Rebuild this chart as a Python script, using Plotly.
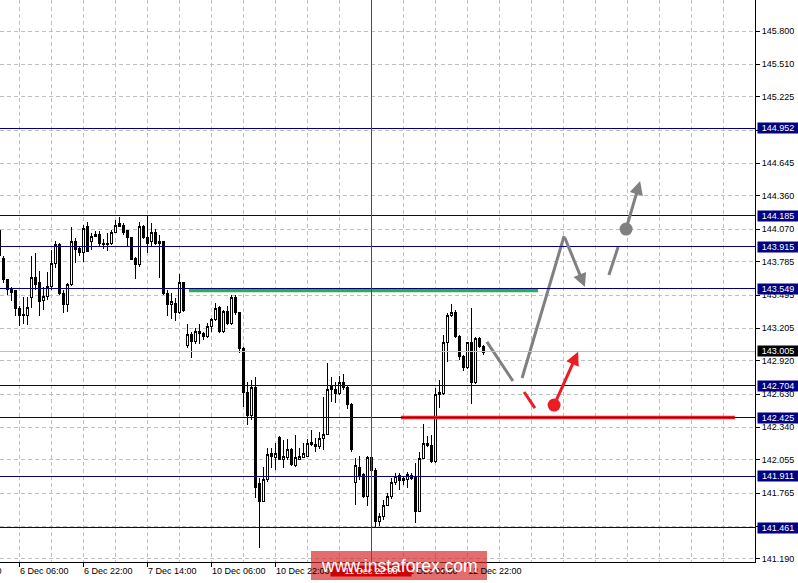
import plotly.graph_objects as go

# ---------------- data ----------------
bar_index = list(range(-1, 122))

open_prices = [
    144.054, 143.818, 143.626, 143.547, 143.530, 143.381, 143.329, 143.312, 143.469, 143.652,
    143.600, 143.443, 143.486, 143.573, 143.774, 143.940, 143.512, 143.416, 143.591, 143.958,
    143.897, 143.862, 144.089, 143.966, 144.019, 144.019, 143.949, 143.932, 143.949, 144.045,
    144.115, 144.106, 144.054, 143.993, 143.818, 143.757, 144.089, 144.001, 143.958, 144.045,
    143.949, 143.958, 143.512, 143.408, 143.425, 143.346, 143.600, 143.050, 143.146, 143.085,
    143.172, 143.155, 143.129, 143.216, 143.285, 143.390, 143.172, 143.355, 143.242, 143.469,
    143.338, 143.032, 142.648, 142.439, 142.683, 141.845, 141.696, 141.880, 142.107, 142.080,
    142.255, 142.063, 142.080, 142.142, 142.002, 142.063, 142.080, 142.089, 142.211, 142.194,
    142.168, 142.246, 142.281, 142.700, 142.674, 142.631, 142.735, 142.683, 142.543, 141.854,
    141.993, 141.932, 141.740, 142.080, 141.967, 141.513, 141.557, 141.661, 141.740, 141.854,
    141.915, 141.897, 141.880, 141.923, 141.906, 141.609, 142.071, 142.202, 142.185, 142.037,
    142.622, 142.631, 143.076, 143.312, 143.338, 143.137, 142.962, 142.858, 143.076, 142.727,
    143.111, 143.041, 142.998,
]
high_prices = [
    144.080, 143.836, 143.635, 143.565, 143.539, 143.399, 143.478, 143.478, 143.836, 143.862,
    143.705, 143.565, 143.696, 143.888, 143.966, 143.949, 143.539, 143.600, 144.089, 143.993,
    143.914, 144.106, 144.132, 144.036, 144.054, 144.054, 143.984, 144.036, 144.062, 144.150,
    144.176, 144.124, 144.062, 144.001, 143.827, 144.132, 144.106, 144.193, 144.124, 144.071,
    144.019, 143.966, 143.539, 143.512, 143.469, 143.678, 143.609, 143.242, 143.172, 143.207,
    143.242, 143.172, 143.251, 143.294, 143.425, 143.399, 143.364, 143.399, 143.495, 143.495,
    143.338, 143.041, 142.735, 142.753, 142.779, 141.897, 141.993, 142.159, 142.159, 142.202,
    142.264, 142.229, 142.238, 142.159, 142.273, 142.159, 142.202, 142.238, 142.316, 142.246,
    142.299, 142.604, 142.901, 142.779, 142.735, 142.788, 142.805, 142.700, 142.552, 142.071,
    142.089, 141.941, 142.089, 142.089, 141.985, 141.591, 141.705, 141.766, 141.897, 141.941,
    141.941, 141.915, 141.950, 141.941, 142.028, 142.124, 142.369, 142.264, 142.273, 142.683,
    142.753, 143.146, 143.338, 143.416, 143.364, 143.146, 142.971, 143.085, 143.381, 143.129,
    143.129, 143.059, 143.010,
]
low_prices = [
    143.818, 143.600, 143.495, 143.443, 143.312, 143.224, 143.242, 143.233, 143.381, 143.539,
    143.312, 143.364, 143.451, 143.539, 143.731, 143.495, 143.338, 143.346, 143.573, 143.774,
    143.836, 143.783, 143.871, 143.888, 144.001, 143.914, 143.897, 143.879, 143.932, 144.036,
    144.089, 144.019, 143.923, 143.801, 143.635, 143.740, 143.984, 143.862, 143.914, 143.932,
    143.643, 143.495, 143.312, 143.285, 143.268, 143.329, 143.346, 143.032, 142.945, 143.067,
    143.067, 143.102, 143.120, 143.172, 143.268, 143.164, 143.164, 143.233, 143.233, 143.320,
    142.989, 142.517, 142.360, 142.404, 141.723, 141.286, 141.688, 141.862, 141.985, 141.967,
    142.054, 141.985, 142.054, 142.002, 141.993, 142.054, 142.071, 142.080, 142.176, 142.124,
    142.150, 142.142, 142.273, 142.561, 142.552, 142.622, 142.666, 142.500, 142.124, 141.661,
    141.880, 141.723, 141.653, 141.950, 141.469, 141.478, 141.531, 141.653, 141.714, 141.836,
    141.792, 141.836, 141.810, 141.880, 141.504, 141.600, 142.063, 142.168, 142.028, 142.028,
    142.508, 142.622, 142.910, 143.303, 143.120, 142.927, 142.831, 142.849, 142.543, 142.718,
    143.032, 142.971, 142.995,
]
close_prices = [
    143.836, 143.626, 143.539, 143.521, 143.381, 143.320, 143.312, 143.390, 143.652, 143.591,
    143.434, 143.486, 143.573, 143.774, 143.940, 143.512, 143.416, 143.591, 143.958, 143.888,
    143.862, 144.080, 143.879, 144.010, 144.010, 143.949, 143.932, 143.949, 144.045, 144.106,
    144.097, 144.045, 143.993, 143.809, 143.757, 144.089, 143.993, 143.949, 144.045, 143.949,
    143.966, 143.504, 143.408, 143.434, 143.346, 143.600, 143.364, 143.146, 143.085, 143.172,
    143.155, 143.129, 143.216, 143.285, 143.381, 143.172, 143.355, 143.242, 143.469, 143.338,
    143.032, 142.648, 142.439, 142.683, 141.810, 141.696, 141.888, 142.098, 142.089, 142.115,
    142.063, 142.089, 142.142, 142.011, 142.080, 142.089, 142.107, 142.202, 142.194, 142.168,
    142.246, 142.281, 142.674, 142.674, 142.631, 142.735, 142.683, 142.543, 142.150, 142.002,
    141.923, 141.740, 142.080, 141.967, 141.513, 141.557, 141.661, 141.740, 141.862, 141.906,
    141.871, 141.871, 141.932, 141.897, 141.609, 142.071, 142.202, 142.185, 142.037, 142.622,
    142.640, 143.076, 143.312, 143.338, 143.129, 142.954, 142.858, 143.076, 142.727, 143.111,
    143.041, 142.989, 143.005,
]

level_prices = [144.952, 144.185, 143.915, 143.549, 142.704, 142.425, 141.911, 141.461]
last_price = 143.005

price_ticks = [145.800, 145.510, 145.225, 144.935, 144.645, 144.360, 144.070, 143.785,
               143.495, 143.205, 142.920, 142.630, 142.340, 142.055, 141.765, 141.475, 141.190]

time_tick_index = [-12, 4, 20, 36, 52, 68, 84, 100, 116]
time_tick_labels = ["5 Dec 14:00", "6 Dec 06:00", "6 Dec 22:00", "7 Dec 14:00",
                    "10 Dec 06:00", "10 Dec 22:00", "11 Dec 14:00", "12 Dec 06:00", "12 Dec 22:00"]
grid_index = list(range(-12, 196, 8))

cursor_index = 92
cursor_label = "11 Dec 22:00"

# drawn objects
green_x = [46.4, 133.7]
green_y = [143.535, 143.535]
red_x = [99.4, 182.9]
red_y = [142.425, 142.425]

gray_seg1_x = [120.9, 127.4]
gray_seg1_y = [143.085, 142.744]
gray_seg2_x = [129.7, 140.2]
gray_seg2_y = [142.770, 144.010]
gray_arrow1 = (140.2, 144.010, 145.4, 143.565)
gray_seg3_x = [151.4, 153.7]
gray_seg3_y = [143.670, 143.914]
gray_dot = (155.7, 144.071)
gray_arrow2 = (155.7, 144.071, 159.2, 144.490)

red_seg_x = [130.2, 132.9]
red_seg_y = [142.648, 142.508]
red_dot = (137.7, 142.534)
red_arrow = (137.7, 142.534, 143.7, 143.000)

x_range = [-0.825, 187.925]
y_range = [141.1637, 146.0707]

NAVY = "#000080"
GRID = "#c0c0c0"
GRAY = "#808080"
RED = "#ec1c24"
GREEN = "#27b04b"
FONT = "Liberation Sans, Arial, sans-serif"

fig = go.Figure()

fig.add_trace(go.Candlestick(
    x=bar_index, open=open_prices, high=high_prices, low=low_prices, close=close_prices,
    increasing=dict(line=dict(color="black", width=1), fillcolor="white"),
    decreasing=dict(line=dict(color="black", width=1), fillcolor="black"),
    whiskerwidth=0, showlegend=False, hoverinfo="skip",
))

shapes = []
for lv in level_prices:
    shapes.append(dict(type="line", xref="paper", x0=0, x1=1, yref="y", y0=lv, y1=lv,
                       line=dict(color=NAVY, width=1), layer="above"))
shapes.append(dict(type="line", xref="paper", x0=0, x1=1, yref="y", y0=last_price, y1=last_price,
                   line=dict(color=GRID, width=1), layer="above"))
shapes.append(dict(type="line", xref="x", x0=cursor_index, x1=cursor_index, yref="paper", y0=0, y1=1,
                   line=dict(color="#ff0000", width=1), layer="above"))
fig.update_layout(shapes=shapes)

def seg(x, y, color, width):
    fig.add_trace(go.Scatter(x=x, y=y, mode="lines", line=dict(color=color, width=width),
                             showlegend=False, hoverinfo="skip"))

seg(green_x, green_y, GREEN, 3.5)
seg(red_x, red_y, RED, 3.5)
seg(gray_seg1_x, gray_seg1_y, GRAY, 3)
seg(gray_seg2_x, gray_seg2_y, GRAY, 3)
seg(gray_seg3_x, gray_seg3_y, GRAY, 3)
seg(red_seg_x, red_seg_y, RED, 3)

fig.add_trace(go.Scatter(x=[gray_dot[0]], y=[gray_dot[1]], mode="markers",
                         marker=dict(color=GRAY, size=13), showlegend=False, hoverinfo="skip"))
fig.add_trace(go.Scatter(x=[red_dot[0]], y=[red_dot[1]], mode="markers",
                         marker=dict(color=RED, size=13), showlegend=False, hoverinfo="skip"))

annotations = []
for (x0, y0, x1, y1), col in [(gray_arrow1, GRAY), (gray_arrow2, GRAY), (red_arrow, RED)]:
    annotations.append(dict(x=x1, y=y1, ax=x0, ay=y0, xref="x", yref="y", axref="x", ayref="y",
                            text="", showarrow=True, arrowhead=2, arrowsize=0.9, arrowwidth=3,
                            arrowcolor=col, standoff=0, startstandoff=0))

# price labels of the levels
for lv in level_prices:
    annotations.append(dict(xref="paper", x=1, xanchor="left", xshift=2, yref="y", y=lv,
                            yanchor="middle", text=f"{lv:.3f}", showarrow=False,
                            bgcolor=NAVY, font=dict(color="white", size=9, family=FONT),
                            width=40, height=10, borderpad=0, align="center"))
annotations.append(dict(xref="paper", x=1, xanchor="left", xshift=2, yref="y", y=last_price,
                        yanchor="middle", text=f"{last_price:.3f}", showarrow=False,
                        bgcolor="black", font=dict(color="white", size=9, family=FONT),
                        width=40, height=10, borderpad=0, align="center"))

# time labels (left-aligned on their tick like the terminal)
for k, lab in zip(time_tick_index, time_tick_labels):
    if k < x_range[0]:
        annotations.append(dict(xref="paper", x=0, xanchor="right", xshift=3, yref="paper", y=0,
                                yanchor="top", yshift=-3, text=lab, showarrow=False,
                                font=dict(color="black", size=9, family=FONT), borderpad=0))
    else:
        annotations.append(dict(xref="x", x=k, xanchor="left", xshift=0, yref="paper", y=0,
                                yanchor="top", yshift=-3, text=lab, showarrow=False,
                                font=dict(color="black", size=9, family=FONT), borderpad=0))

annotations.append(dict(xref="x", x=cursor_index, xanchor="center", yref="paper", y=0,
                        yanchor="top", yshift=-3, text=cursor_label, showarrow=False,
                        bgcolor="#d00000", font=dict(color="white", size=9, family=FONT),
                        width=80, borderpad=0))

# watermark
fig.add_shape(type="rect", xref="paper", yref="paper", x0=311 / 755, x1=487 / 755,
              y0=-18 / 562, y1=11 / 562, fillcolor="rgba(214,40,40,0.68)",
              line=dict(width=0), layer="above")
annotations.append(dict(xref="paper", yref="paper", x=399 / 755, y=-4 / 562, xanchor="center",
                        yanchor="middle", text="www.instaforex.com", showarrow=False,
                        font=dict(color="white", size=17.5, family=FONT)))

fig.update_layout(
    annotations=annotations,
    width=798, height=583,
    margin=dict(l=0, r=43, t=0, b=21, autoexpand=False),
    paper_bgcolor="white", plot_bgcolor="white",
    showlegend=False,
    font=dict(family=FONT, size=9, color="black"),
    xaxis=dict(
        range=x_range, rangeslider=dict(visible=False), automargin=False,
        tickmode="array", tickvals=[k for k in time_tick_index], ticktext=[""] * len(time_tick_index),
        showticklabels=False, ticks="outside", ticklen=4, tickcolor="black",
        showgrid=True, gridcolor=GRID, griddash="4px,3px", gridwidth=1,
        minor=dict(tickmode="array", tickvals=grid_index, showgrid=True, gridcolor=GRID,
                   griddash="4px,3px", gridwidth=1, ticks=""),
        showline=True, linecolor="black", linewidth=1, zeroline=False, fixedrange=True,
    ),
    yaxis=dict(
        range=y_range, side="right", automargin=False,
        tickmode="array", tickvals=price_ticks, ticktext=[f"{v:.3f}" for v in price_ticks],
        ticks="outside", ticklen=4, tickcolor="black",
        tickfont=dict(size=9, family=FONT, color="black"),
        showgrid=True, gridcolor=GRID, griddash="4px,3px", gridwidth=1,
        showline=True, linecolor="black", linewidth=1, zeroline=False, fixedrange=True,
    ),
)

page_script = (
    "document.body.style.margin='0';document.body.style.overflow='hidden';"
    "var s=document.createElement('style');"
    "s.textContent='.shapelayer path{shape-rendering:crispEdges}"
    " .boxlayer path{shape-rendering:crispEdges}';"
    "document.head.appendChild(s);"
)

fig.write_html("out.html", config={"displayModeBar": False}, post_script=page_script)
